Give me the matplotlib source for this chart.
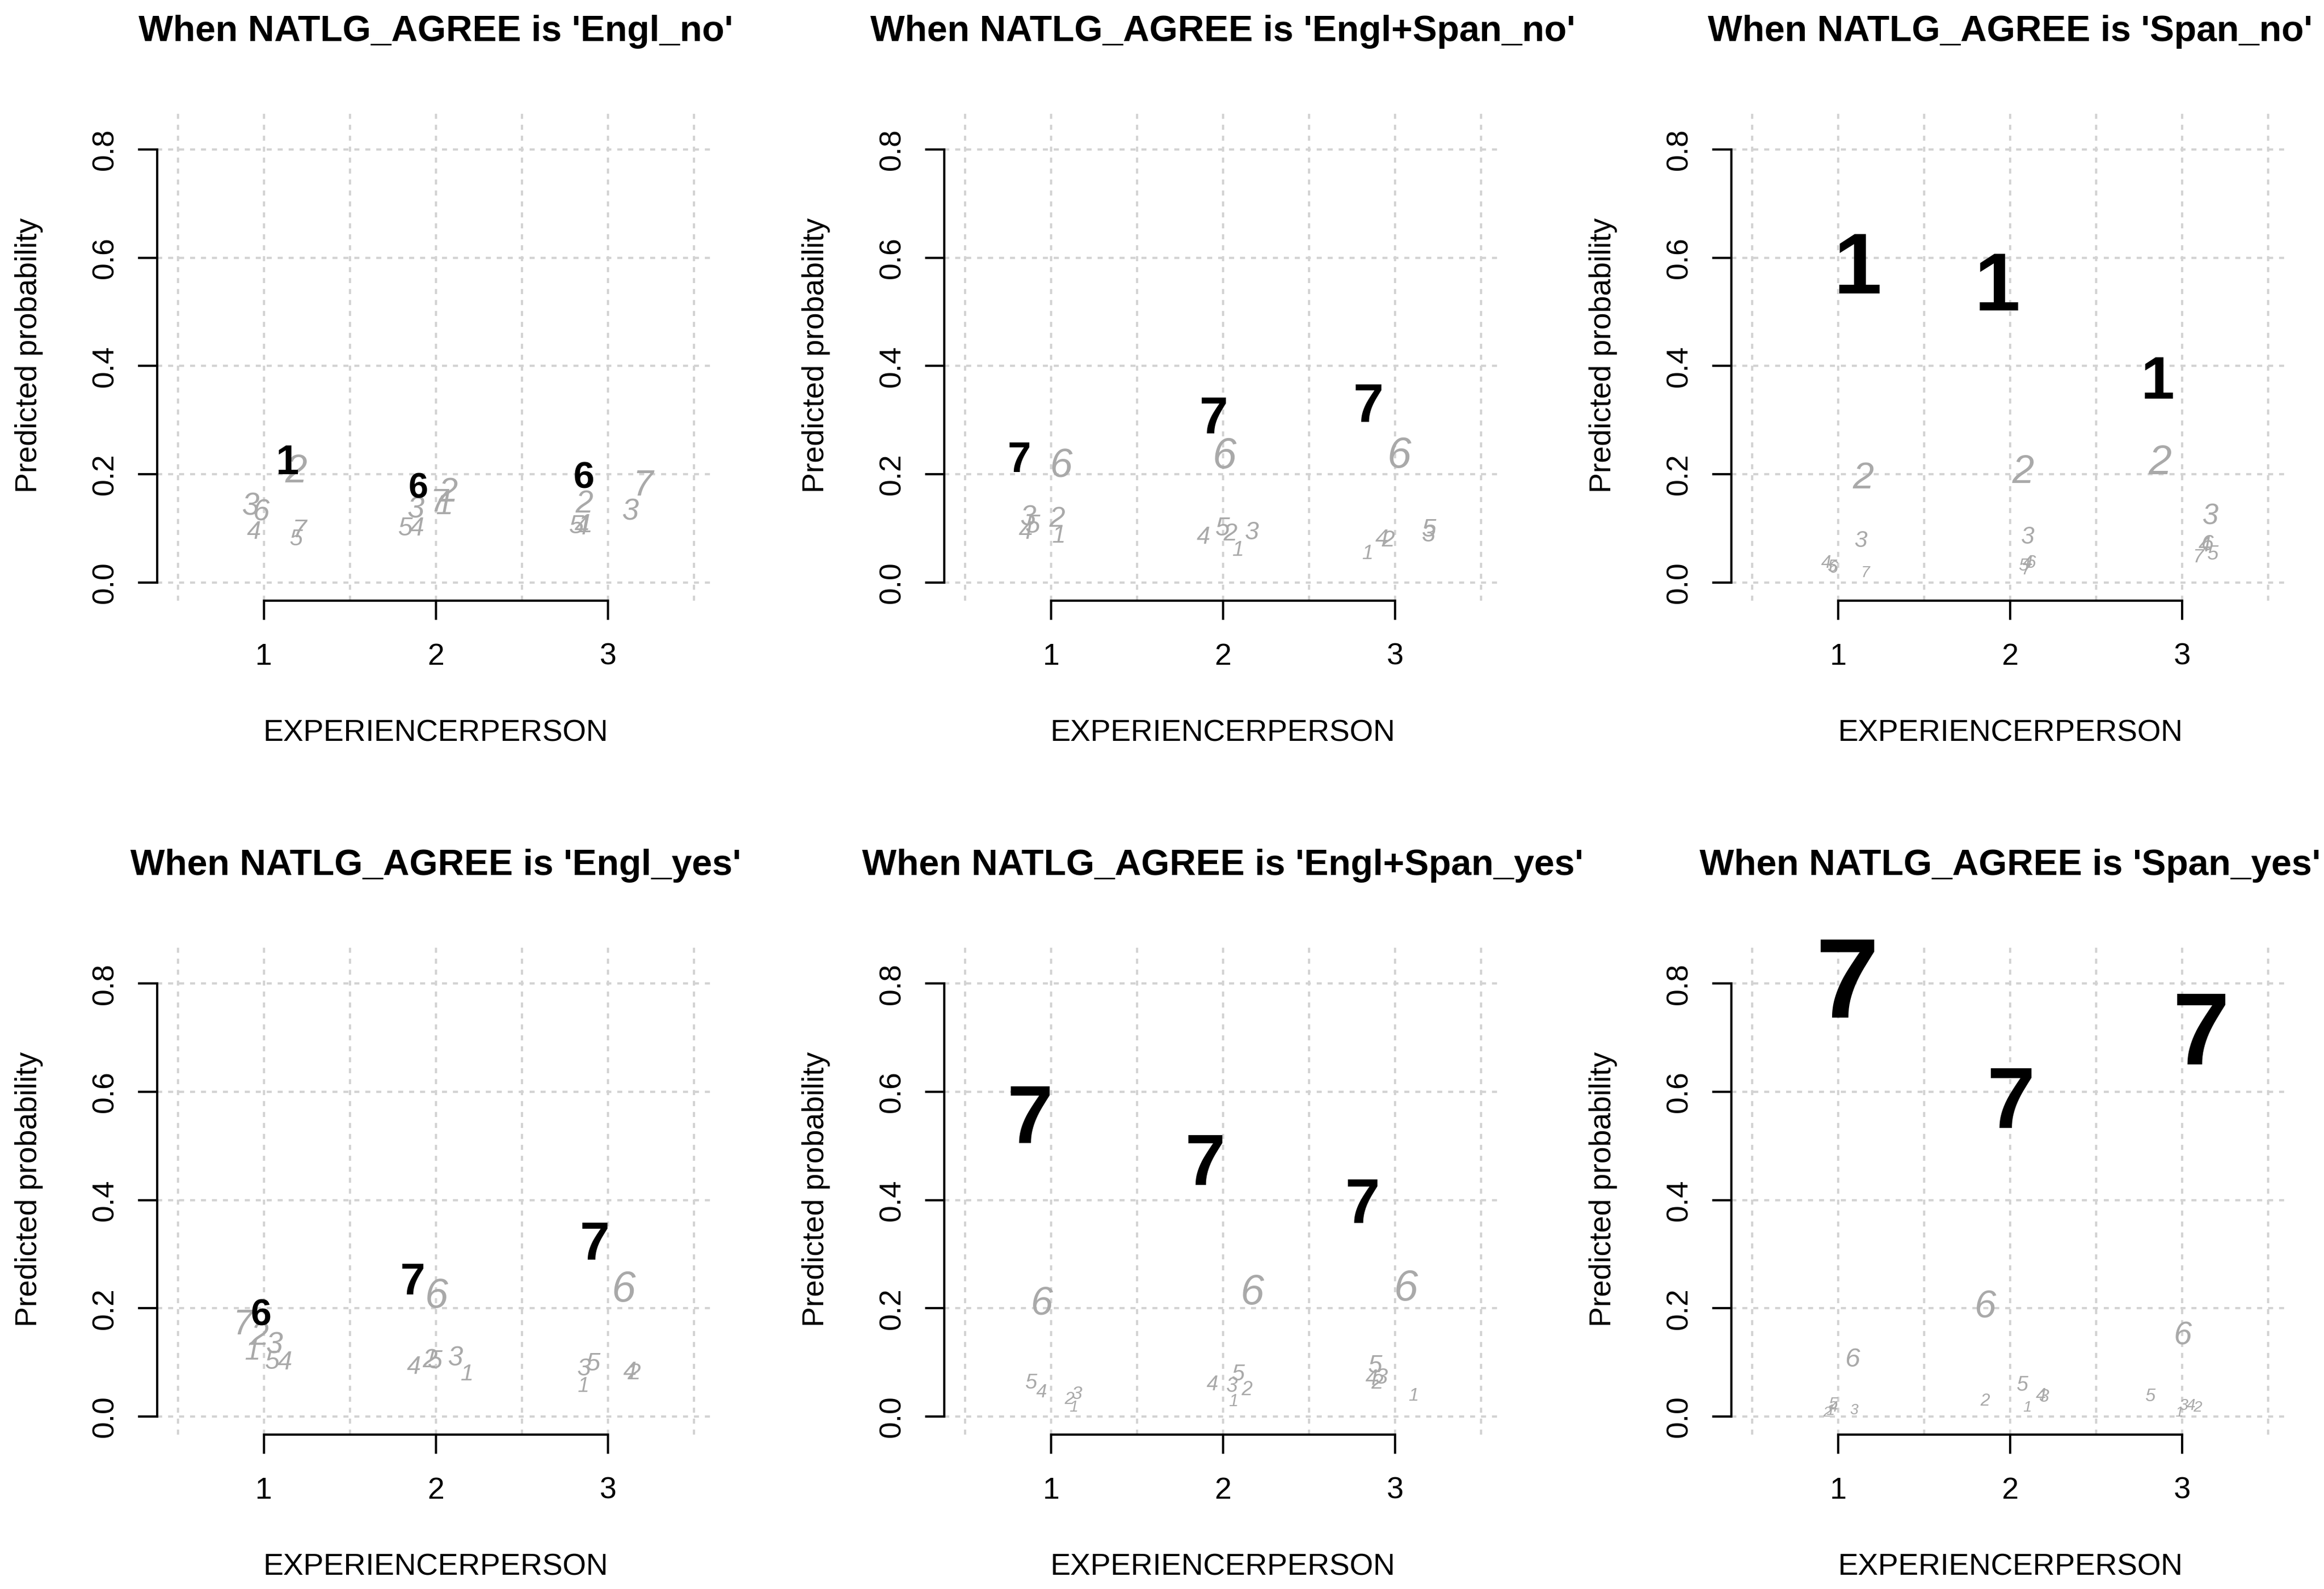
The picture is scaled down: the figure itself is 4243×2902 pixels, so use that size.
import numpy as np
import matplotlib
matplotlib.use("Agg")
import matplotlib.pyplot as plt

plt.rcParams['font.family'] = ['Liberation Sans', 'DejaVu Sans']
plt.rcParams['lines.scale_dashes'] = False

# ---- data ----
titles = ["When NATLG_AGREE is 'Engl_no'",
          "When NATLG_AGREE is 'Engl+Span_no'",
          "When NATLG_AGREE is 'Span_no'",
          "When NATLG_AGREE is 'Engl_yes'",
          "When NATLG_AGREE is 'Engl+Span_yes'",
          "When NATLG_AGREE is 'Span_yes'"]
categories = ['1', '2', '3', '4', '5', '6', '7']
x_ticks = [1, 2, 3]
y_ticks = [0.0, 0.2, 0.4, 0.6, 0.8]

# rows = category 1..7, columns = EXPERIENCERPERSON 1, 2, 3
prob_engl_no = np.array([
    [0.227, 0.147, 0.111],
    [0.211, 0.172, 0.150],
    [0.145, 0.140, 0.135],
    [0.097, 0.104, 0.106],
    [0.084, 0.104, 0.108],
    [0.134, 0.179, 0.199],
    [0.101, 0.153, 0.185]])
xpos_engl_no = np.array([
    [1.137, 2.051, 2.869],
    [1.186, 2.071, 2.863],
    [0.923, 1.885, 3.131],
    [0.943, 1.889, 2.848],
    [1.186, 1.824, 2.818],
    [0.984, 1.899, 2.859],
    [1.206, 2.020, 3.202]])

prob_englspan_no = np.array([
    [0.090, 0.063, 0.057],
    [0.122, 0.094, 0.082],
    [0.124, 0.096, 0.092],
    [0.097, 0.088, 0.084],
    [0.110, 0.104, 0.102],
    [0.221, 0.240, 0.241],
    [0.232, 0.310, 0.333]])
xpos_englspan_no = np.array([
    [1.045, 2.089, 2.840],
    [1.034, 2.040, 2.960],
    [0.868, 2.168, 3.196],
    [0.854, 1.885, 2.923],
    [0.893, 1.998, 3.196],
    [1.059, 2.008, 3.024],
    [0.816, 1.947, 2.844]])

prob_span_no = np.array([
    [0.591, 0.557, 0.380],
    [0.199, 0.210, 0.227],
    [0.081, 0.087, 0.127],
    [0.039, 0.039, 0.072],
    [0.031, 0.034, 0.056],
    [0.029, 0.039, 0.074],
    [0.020, 0.026, 0.050]])
xpos_span_no = np.array([
    [1.116, 1.926, 2.857],
    [1.145, 2.074, 2.871],
    [1.133, 2.104, 3.163],
    [0.930, 2.102, 3.131],
    [0.965, 2.078, 3.177],
    [0.970, 2.118, 3.145],
    [1.155, 2.094, 3.092]])

prob_engl_yes = np.array([
    [0.124, 0.082, 0.059],
    [0.154, 0.109, 0.085],
    [0.137, 0.112, 0.092],
    [0.104, 0.096, 0.086],
    [0.105, 0.107, 0.102],
    [0.193, 0.229, 0.241],
    [0.175, 0.255, 0.325]])
xpos_engl_yes = np.array([
    [0.935, 2.180, 2.856],
    [0.976, 1.966, 3.150],
    [1.061, 2.115, 2.860],
    [1.121, 1.872, 3.128],
    [1.051, 1.996, 2.915],
    [0.984, 2.002, 3.091],
    [0.879, 1.864, 2.925]])

prob_englspan_yes = np.array([
    [0.020, 0.031, 0.042],
    [0.035, 0.052, 0.066],
    [0.045, 0.059, 0.076],
    [0.048, 0.062, 0.074],
    [0.066, 0.082, 0.098],
    [0.215, 0.236, 0.243],
    [0.560, 0.476, 0.400]])
xpos_englspan_yes = np.array([
    [1.131, 2.060, 3.107],
    [1.105, 2.139, 2.894],
    [1.150, 2.050, 2.918],
    [0.944, 1.938, 2.864],
    [0.883, 2.086, 2.884],
    [0.946, 2.169, 3.063],
    [0.877, 1.896, 2.808]])

prob_span_yes = np.array([
    [0.013, 0.019, 0.010],
    [0.010, 0.032, 0.019],
    [0.014, 0.039, 0.023],
    [0.019, 0.042, 0.023],
    [0.026, 0.061, 0.040],
    [0.110, 0.208, 0.155],
    [0.812, 0.590, 0.718]])
xpos_span_yes = np.array([
    [0.954, 2.098, 2.984],
    [0.934, 1.854, 3.090],
    [1.094, 2.194, 3.006],
    [0.974, 2.178, 3.050],
    [0.970, 2.070, 2.812],
    [1.084, 1.855, 3.004],
    [1.056, 2.004, 3.112]])

panels = [
    (titles[0], prob_engl_no, xpos_engl_no),
    (titles[1], prob_englspan_no, xpos_englspan_no),
    (titles[2], prob_span_no, xpos_span_no),
    (titles[3], prob_engl_yes, xpos_engl_yes),
    (titles[4], prob_englspan_yes, xpos_englspan_yes),
    (titles[5], prob_span_yes, xpos_span_yes),
]

# ---- layout ----
fig = plt.figure(figsize=(4243 / 300, 2902 / 300), dpi=300)
lefts = [0.0676, 0.4063, 0.745]
bottoms = [0.622, 0.0971]
w, h = 0.2399, 0.309

grid_kw = dict(color='#D3D3D3', lw=1.0, ls=(0, (2.2, 2.6)), zorder=0)
grey = '#A9A9A9'

for i, (title, prob, xpos) in enumerate(panels):
    ax = fig.add_axes([lefts[i % 3], bottoms[i // 3], w, h])
    ax.set_xlim(0.38, 3.62)
    ax.set_ylim(-0.0336, 0.8736)

    for gx in [0.5, 1.0, 1.5, 2.0, 2.5, 3.0, 3.5]:
        ax.axvline(gx, **grid_kw)
    for gy in y_ticks:
        ax.axhline(gy, **grid_kw)

    # biggest category at each x level in bold black, others grey italic
    best = prob.argmax(axis=0)
    for j in range(len(x_ticks)):
        for k, cat in enumerate(categories):
            p = prob[k, j]
            fs = 5.8 + 54.4 * p
            if k == best[j]:
                kw = dict(color='black', fontweight='bold', fontstyle='normal', zorder=3)
            else:
                kw = dict(color=grey, fontweight='normal', fontstyle='italic', zorder=2)
            ax.annotate(cat, xy=(xpos[k, j], p), xytext=(0, -0.358 * fs),
                        textcoords='offset points', ha='center', va='baseline',
                        fontsize=fs, **kw)

    for s in ['top', 'right']:
        ax.spines[s].set_visible(False)
    ax.spines['left'].set_bounds(0, 0.8)
    ax.spines['bottom'].set_bounds(1, 3)
    ax.spines['left'].set_linewidth(1.0)
    ax.spines['bottom'].set_linewidth(1.0)
    ax.set_xticks(x_ticks)
    ax.set_xticklabels([str(v) for v in x_ticks])
    ax.set_yticks(y_ticks)
    ax.set_yticklabels([f"{v:.1f}" for v in y_ticks], rotation=90, va='center')
    ax.tick_params(length=8.4, width=1.0, labelsize=13.3)
    ax.tick_params(axis='x', pad=10)
    ax.tick_params(axis='y', pad=8)

    ax.set_title(title, fontsize=16, fontweight='bold', pad=30)
    ax.set_xlabel("EXPERIENCERPERSON", fontsize=13.3)
    ax.set_ylabel("Predicted probability", fontsize=13.3)
    ax.xaxis.set_label_coords(0.5, -0.27)
    ax.xaxis.label.set_va('center')
    ax.yaxis.set_label_coords(-0.230, 0.5)
    ax.yaxis.label.set_va('center')

fig.savefig("out.png", dpi=300)
